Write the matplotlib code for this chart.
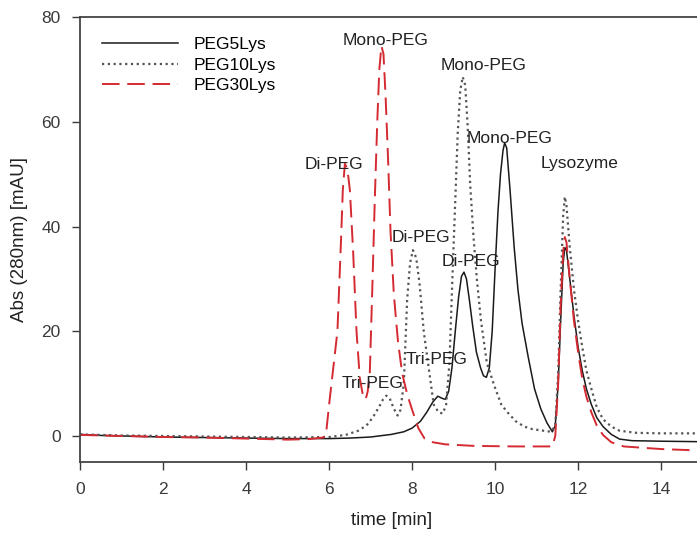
import matplotlib
matplotlib.use('Agg')
import matplotlib.pyplot as plt

plt.rcParams['font.family'] = ['Liberation Sans', 'DejaVu Sans']

# PEG5Lys (solid)
t_peg5 = [0.0, 0.5, 1.0, 2.0, 3.0, 4.0, 5.0, 6.0, 6.5, 7.0, 7.5, 7.8, 8.0, 8.2, 8.35,
          8.5, 8.62, 8.72, 8.8, 8.88, 8.96, 9.04, 9.12, 9.19, 9.25, 9.31, 9.38, 9.46,
          9.55, 9.65, 9.72, 9.79, 9.86, 9.93, 10.0, 10.07, 10.13, 10.19, 10.23, 10.28,
          10.36, 10.46, 10.55, 10.65, 10.8, 10.95, 11.1, 11.25, 11.38, 11.45,
          11.52, 11.58, 11.64, 11.68, 11.72, 11.8, 11.9, 12.0, 12.1, 12.2, 12.32,
          12.45, 12.6, 12.8, 13.0, 13.3, 14.0, 15.0]
a_peg5 = [0.3, 0.1, 0.0, -0.2, -0.3, -0.4, -0.5, -0.5, -0.4, -0.2, 0.3, 0.8, 1.5, 2.8, 4.5,
          6.5, 7.6, 7.2, 7.0, 8.5, 13, 20, 26.5, 30.5, 31.3, 30, 26, 21,
          16, 13, 11.5, 11.2, 13, 20, 32, 43, 50, 54.5, 56, 55,
          47, 36, 28, 21.5, 15, 9, 5.2, 2.5, 0.8, 2,
          10, 22, 33, 36, 35.5, 30, 23, 17, 12.5, 9, 6,
          3.5, 1.8, 0.3, -0.6, -0.9, -1.0, -1.1]

# PEG10Lys (dotted)
t_peg10 = [0.0, 1.0, 2.0, 3.0, 4.0, 5.0, 6.0, 6.4, 6.7, 6.9, 7.05, 7.2, 7.3, 7.38, 7.46,
           7.56, 7.65, 7.72, 7.8, 7.88, 7.95, 8.02, 8.1, 8.18, 8.28, 8.4, 8.52, 8.64,
           8.74, 8.82, 8.9, 8.97, 9.04, 9.1, 9.16, 9.22, 9.28, 9.34, 9.4, 9.48, 9.56,
           9.66, 9.8, 9.98, 10.15, 10.3, 10.5, 10.7, 10.9, 11.35, 11.45, 11.52, 11.58,
           11.64, 11.68, 11.72, 11.8, 11.9, 12.0, 12.1, 12.2, 12.32, 12.45, 12.6, 12.8,
           13.0, 13.4, 14.0, 15.0]
a_peg10 = [0.3, 0.1, 0.0, -0.1, -0.2, -0.3, -0.2, 0.2, 1.0, 2.0, 3.5, 5.5, 7.0, 7.7, 7.2,
           5.2, 3.9, 5, 10, 26, 33, 35.5, 34, 29, 20, 13, 6, 4.5,
           4.3, 6, 14, 30, 45, 58, 66, 68.6, 67, 59, 48, 38, 30,
           22, 14, 9.6, 6, 4.5, 2.8, 1.8, 1.3, 0.8, 2, 12, 28,
           42, 45.7, 44, 36, 28, 22, 17, 12.5, 9, 5.5, 3.2, 1.8,
           1.0, 0.6, 0.5, 0.5]

# PEG30Lys (dashed)
t_peg30 = [0.0, 1.0, 2.0, 3.0, 4.0, 5.0, 5.5, 5.85, 5.92, 6.0, 6.1, 6.2, 6.28, 6.33,
           6.38, 6.44, 6.5, 6.58, 6.66, 6.74, 6.82, 6.88, 6.93, 6.98, 7.04, 7.1, 7.16,
           7.21, 7.26, 7.31, 7.36, 7.42, 7.48, 7.56, 7.66, 7.76, 7.88, 8.0, 8.15, 8.3,
           8.5, 8.8, 9.5, 10.5, 11.38, 11.45, 11.52, 11.58, 11.64, 11.68, 11.72, 11.8,
           11.9, 12.0, 12.1, 12.2, 12.32, 12.45, 12.6, 12.8, 13.1, 14.0, 15.0]
a_peg30 = [0.2, 0.0, -0.2, -0.3, -0.5, -0.7, -0.6, -0.3, 0, 6, 13, 20, 36, 47,
           52, 51, 47, 35, 20, 11, 7.5, 7, 8.5, 12, 28, 45, 60,
           70, 74.5, 73, 65, 53, 39, 27, 18, 12, 8, 5, 1.5, -0.5,
           -1.2, -1.6, -1.9, -2.0, -2.0, 0, 10, 25, 35, 38, 37, 30,
           22, 16, 11, 7.5, 4.5, 2, 0.2, -1.2, -2.0, -2.5, -2.8]

# annotations: label, time, abs
labels = ['Mono-PEG', 'Mono-PEG', 'Mono-PEG', 'Lysozyme', 'Di-PEG', 'Di-PEG',
          'Di-PEG', 'Tri-PEG', 'Tri-PEG']
label_t = [7.37, 9.73, 10.34, 12.03, 6.11, 8.21, 9.42, 8.6, 7.05]
label_a = [75.6, 70.7, 56.8, 52.0, 51.8, 37.9, 33.3, 14.7, 10.1]

fig = plt.figure(figsize=(6.97, 5.38), dpi=100)
ax = fig.add_axes([0.115, 0.141, 0.893, 0.827])

ax.plot(t_peg5, a_peg5, color='#1a1a1a', lw=1.1, label='PEG5Lys')
ax.plot(t_peg10, a_peg10, color='#555555', lw=1.6, linestyle=(0, (1, 1.6)),
        label='PEG10Lys')
ax.plot(t_peg30, a_peg30, color='#d42a32', lw=1.4, linestyle=(0, (9, 4)),
        label='PEG30Lys')

for lab, x, y in zip(labels, label_t, label_a):
    ax.text(x, y, lab, fontsize=12.5, color='#222222', ha='center', va='center')

ax.set_xlim(0, 15)
ax.set_ylim(-5, 80)
ax.set_xticks(range(0, 15, 2))
ax.set_yticks(range(0, 81, 20))
ax.tick_params(direction='out', length=6, width=1, labelsize=12.5,
               colors='#3a3a3a', pad=8)
for s in ax.spines.values():
    s.set_color('#444444')
    s.set_linewidth(1.3)

ax.set_xlabel('time [min]', fontsize=13.5, color='#222222', labelpad=11)
ax.set_ylabel('Abs (280nm) [mAU]', fontsize=13.5, color='#222222', labelpad=10)

ax.legend(loc='upper left', frameon=False, fontsize=12.5, handlelength=4.4,
          handletextpad=0.9, labelspacing=0.3, bbox_to_anchor=(0.01, 0.99))

fig.savefig('out.png', dpi=100)
